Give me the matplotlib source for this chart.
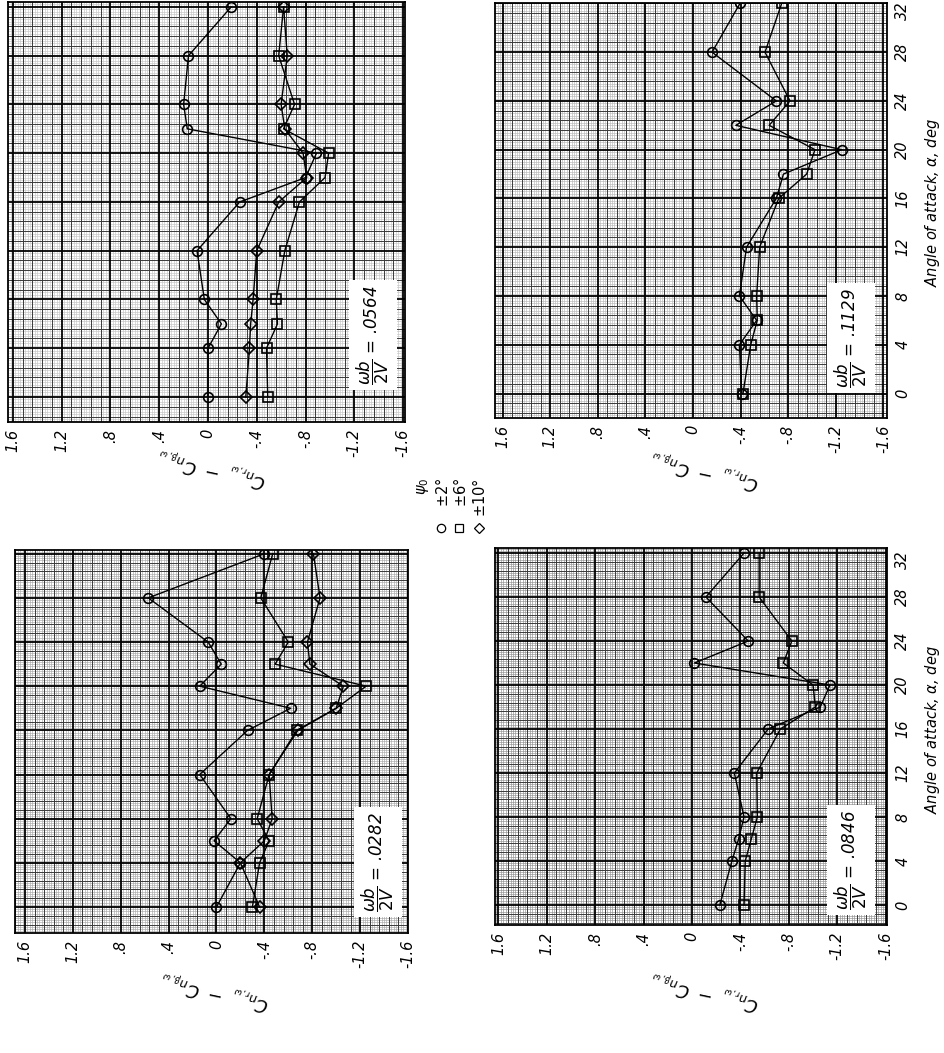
import numpy as np
import matplotlib
matplotlib.use("Agg")
import matplotlib.pyplot as plt
from matplotlib.transforms import ScaledTranslation

# angle of attack, deg (same points for every run)
alpha = [0, 4, 6, 8, 12, 16, 18, 20, 22, 24, 28, 32]

# wb/2V = .0564
cn_0564_psi2 = [0.0, 0.0, -0.11, 0.03, 0.09, -0.26, -0.80, -0.89, 0.17, 0.20, 0.16, -0.19]
cn_0564_psi6 = [-0.49, -0.48, -0.57, -0.56, -0.63, -0.75, -0.96, -0.99, -0.62, -0.71, -0.58, -0.62]
cn_0564_psi10 = [-0.31, -0.34, -0.35, -0.37, -0.40, -0.58, -0.81, -0.78, -0.63, -0.60, -0.65, -0.62]

# wb/2V = .1129
cn_1129_psi2 = [-0.41, -0.39, -0.535, -0.39, -0.45, -0.70, -0.76, -1.25, -0.36, -0.70, -0.16, -0.395]
cn_1129_psi6 = [-0.42, -0.485, -0.54, -0.535, -0.56, -0.72, -0.955, -1.025, -0.64, -0.815, -0.605, -0.745]

# wb/2V = .0282
cn_0282_psi2 = [0.0, -0.20, 0.02, -0.12, 0.14, -0.26, -0.62, 0.14, -0.04, 0.07, 0.57, -0.40]
cn_0282_psi6 = [-0.30, -0.36, -0.44, -0.34, -0.44, -0.67, -1.00, -1.25, -0.49, -0.60, -0.37, -0.47]
cn_0282_psi10 = [-0.36, -0.20, -0.40, -0.465, -0.44, -0.68, -1.00, -1.06, -0.78, -0.76, -0.865, -0.81]

# wb/2V = .0846
cn_0846_psi2 = [-0.23, -0.33, -0.385, -0.43, -0.35, -0.63, -1.06, -1.14, -0.02, -0.465, -0.115, -0.43]
cn_0846_psi6 = [-0.43, -0.44, -0.49, -0.54, -0.535, -0.73, -1.02, -1.00, -0.755, -0.825, -0.555, -0.555]

cn_ticks = [1.6, 1.2, 0.8, 0.4, 0, -0.4, -0.8, -1.2, -1.6]
cn_ticklabels = ['1.6', '1.2', '.8', '.4', '0', '-.4', '-.8', '-1.2', '-1.6']
alpha_ticks = [0, 4, 8, 12, 16, 20, 24, 28, 32]

W, H = 944, 1053
fig = plt.figure(figsize=(W / 100, H / 100), dpi=100)
fig.patch.set_facecolor('white')

ylab = r'$C_{n_{r,\omega}}\ -\ C_{n_{\beta,\omega}}$'


def graph_paper(ax, fine_col):
    # 20 divisions per heavy square, darker line every 4th division
    x0, x1 = sorted(ax.get_xlim())
    y0, y1 = sorted(ax.get_ylim())
    for k in range(int(np.floor(x0 / 0.02)), int(np.ceil(x1 / 0.02)) + 1):
        v = k * 0.02
        if k % 20 == 0:
            ax.axvline(v, color='black', lw=1.3, zorder=1)
        elif k % 4 == 0:
            ax.axvline(v, color='#3a3a3a', lw=0.7, zorder=0.8)
        else:
            ax.axvline(v, color=fine_col, lw=0.45, zorder=0.5)
    for k in range(int(np.floor(y0 / 0.2)), int(np.ceil(y1 / 0.2)) + 1):
        v = k * 0.2
        if k % 20 == 0:
            ax.axhline(v, color='black', lw=1.3, zorder=1)
        elif k % 4 == 0:
            ax.axhline(v, color='#3a3a3a', lw=0.7, zorder=0.8)
        else:
            ax.axhline(v, color=fine_col, lw=0.45, zorder=0.5)


def panel(box, cn0, cs, a0, asc, series, label, lab_xy, right, fine_col):
    x0, y0, x1, y1 = box
    ax = fig.add_axes([x0 / W, 1 - y1 / H, (x1 - x0) / W, (y1 - y0) / H])
    ax.set_xlim((cn0 - x0) / cs, (cn0 - x1) / cs)
    ax.set_ylim((a0 - y1) / asc, (a0 - y0) / asc)
    graph_paper(ax, fine_col)
    for vals, mk, ms in series:
        ax.plot(vals, alpha, color='black', lw=1.0, marker=mk, ms=ms,
                mfc='none', mec='black', mew=1.2, zorder=3)
    ax.set_xticks(cn_ticks)
    ax.set_xticklabels(cn_ticklabels, rotation=90, fontsize=10.5, style='italic')
    ax.tick_params(axis='x', length=0, pad=5)
    if right:
        ax.yaxis.tick_right()
        ax.set_yticks(alpha_ticks)
        labs = ax.set_yticklabels([str(a) for a in alpha_ticks], rotation=90,
                                  fontsize=10.5, style='italic', va='center')
        ax.tick_params(axis='y', length=0, pad=6)
        # keep the top label inside the page
        labs[-1].set_transform(labs[-1].get_transform() +
                               ScaledTranslation(0, -5 / 72, fig.dpi_scale_trans))
    else:
        ax.set_yticks([])
    for s in ax.spines.values():
        s.set_linewidth(1.3)
    # value box
    fig.text(lab_xy[0] / W, 1 - lab_xy[1] / H,
             r'$\dfrac{\omega b}{2V}$ = ' + label, rotation=90, fontsize=12,
             style='italic', ha='center', va='center',
             bbox=dict(facecolor='white', edgecolor='none', pad=4), zorder=5)
    return ax


panel((8, 2, 405, 422), 208, 121.9, 397, 12.19,
      [(cn_0564_psi2, 'o', 7), (cn_0564_psi6, 's', 6.5), (cn_0564_psi10, 'D', 6)],
      '.0564', (373, 335), False, '#c4c4c4')
panel((495, 3, 887, 418), 693, 119, 393.5, 12.19,
      [(cn_1129_psi2, 'o', 7), (cn_1129_psi6, 's', 6.5)],
      '.1129', (851, 338), True, '#b8b8b8')
panel((15, 550, 408, 933), 217.5, 120.3, 907, 11.04,
      [(cn_0282_psi2, 'o', 7), (cn_0282_psi6, 's', 6.5), (cn_0282_psi10, 'D', 6)],
      '.0282', (378, 862), False, '#a8a8a8')
panel((495, 548, 887, 925), 692, 121, 905, 11.0,
      [(cn_0846_psi2, 'o', 7), (cn_0846_psi6, 's', 6.5)],
      '.0846', (851, 860), True, '#909090')

# axis titles
for (x, y) in [(212, 467), (705, 469), (215, 990), (705, 990)]:
    fig.text(x / W, 1 - y / H, ylab, rotation=168, fontsize=13, ha='center', va='center')
for y in [203, 730]:
    fig.text(933 / W, 1 - y / H, r'Angle of attack, $\alpha$, deg', rotation=90,
             fontsize=10.5, style='italic', ha='center', va='center')

# legend
fig.text(423 / W, 1 - 478 / H, r'$\psi_0$', rotation=90, fontsize=10.5, ha='center', va='top')
for x, txt in [(442, r'$\pm2\degree$'), (460, r'$\pm6\degree$'), (479, r'$\pm10\degree$')]:
    fig.text(x / W, 1 - 478 / H, txt, rotation=90, fontsize=10.5, ha='center', va='top')
lax = fig.add_axes([430 / W, 1 - 538 / H, 60 / W, 20 / H])
lax.set_xlim(430, 490)
lax.set_ylim(538, 518)
lax.axis('off')
lax.plot([441], [528], marker='o', ms=6, mfc='none', mec='black', mew=0.9, ls='none')
lax.plot([459], [528], marker='s', ms=5.5, mfc='none', mec='black', mew=0.9, ls='none')
lax.plot([479], [528], marker='D', ms=5, mfc='none', mec='black', mew=0.9, ls='none')

fig.savefig('out.png', dpi=100)
